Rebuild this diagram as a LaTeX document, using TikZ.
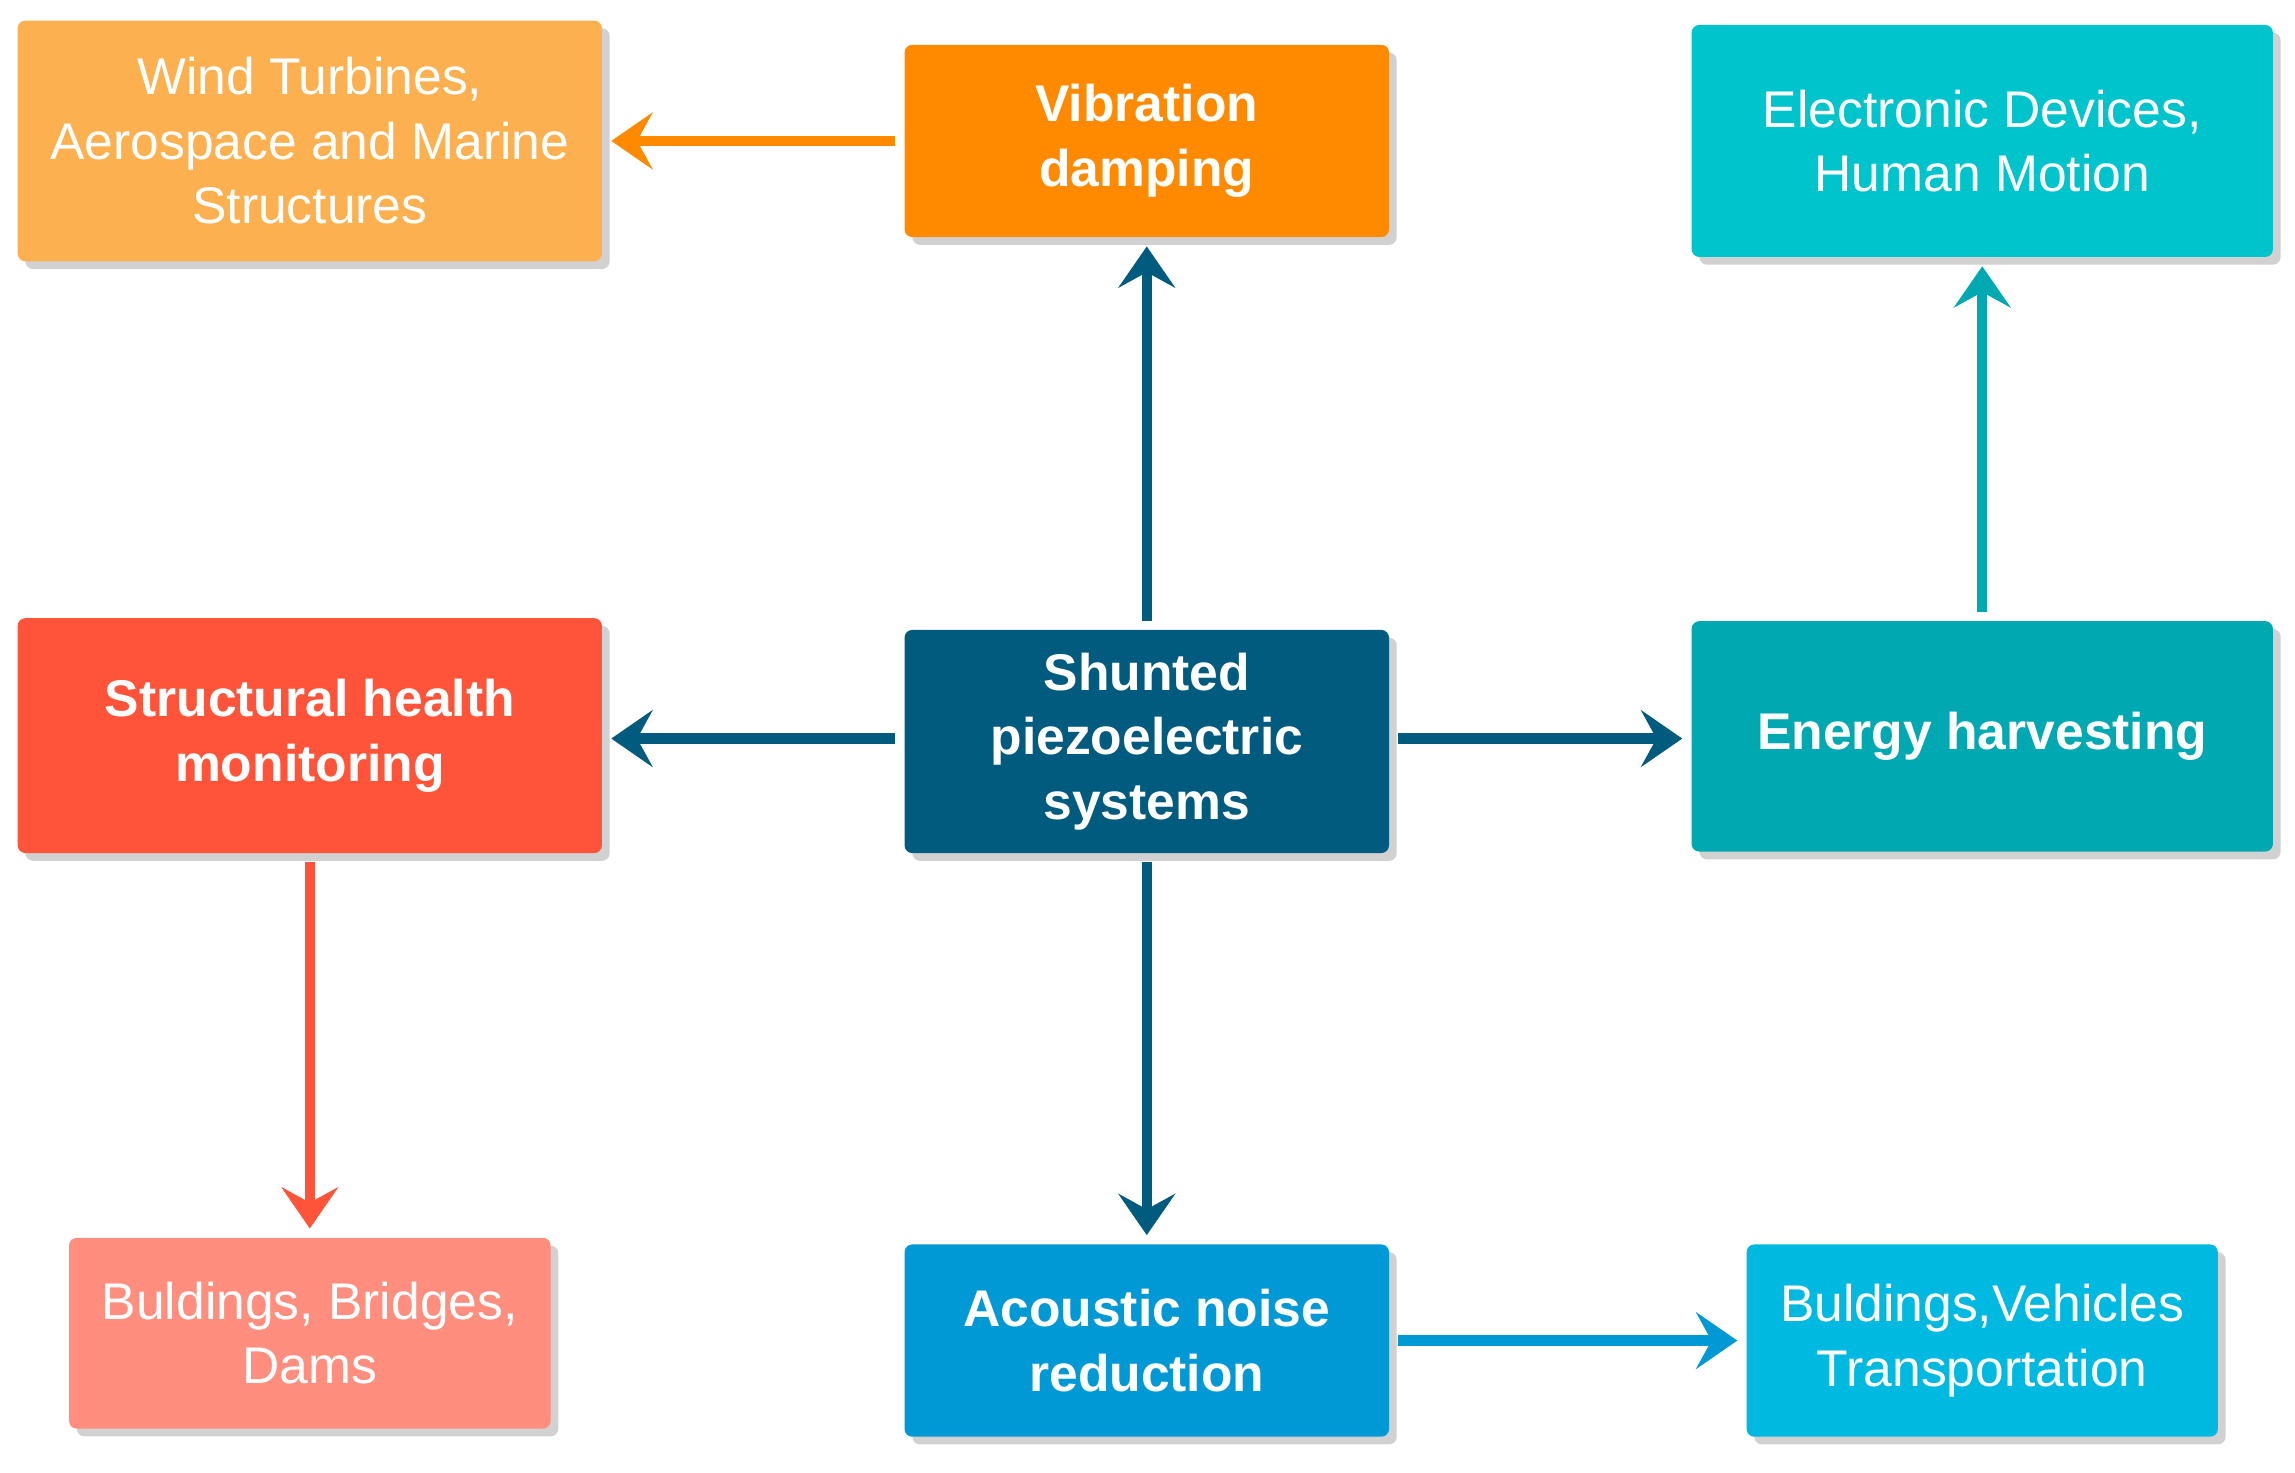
\documentclass[tikz,border=0pt]{standalone}
\usepackage{fontspec}
\setmainfont{Liberation Sans}
\usetikzlibrary{shadows,arrows.meta}
\definecolor{cwind}{HTML}{FDB04F}
\definecolor{cvib}{HTML}{FF8A00}
\definecolor{celec}{HTML}{00C4CC}
\definecolor{cshm}{HTML}{FF5439}
\definecolor{cshunt}{HTML}{005B7F}
\definecolor{cener}{HTML}{00A9B1}
\definecolor{cbbd}{HTML}{FF8E7E}
\definecolor{cacou}{HTML}{0099D5}
\definecolor{cveh}{HTML}{00B9E1}
\begin{document}
\begin{tikzpicture}[x=0.02cm,y=-0.02cm,
 box/.style={rounded corners=3pt,draw=none,text=white,align=center,
   font=\fontsize{20}{25}\selectfont,inner sep=0pt,
   drop shadow={shadow xshift=3pt,shadow yshift=-3pt,fill=black,opacity=0.18}},
 bold/.style={font=\fontsize{20}{25}\selectfont\bfseries},
 arr/.style={line width=4pt,-{Stealth[length=16pt,width=22pt,inset=6pt]},shorten <=0.12cm,shorten >=0.12cm}]
\useasboundingbox (0,0) rectangle (1563,1003);
\node[box,fill=cwind,minimum width=7.96cm,minimum height=3.28cm] (wind) at (211,96) {Wind Turbines,\\Aerospace and Marine\\Structures};
\node[box,bold,fill=cvib,minimum width=6.6cm,minimum height=2.62cm] (vib) at (781,96) {Vibration\\damping};
\node[box,fill=celec,minimum width=7.92cm,minimum height=3.16cm] (elec) at (1350,96) {Electronic Devices,\\Human Motion};
\node[box,bold,fill=cshm,minimum width=7.96cm,minimum height=3.2cm] (shm) at (211,501) {Structural health\\monitoring};
\node[box,bold,fill=cshunt,minimum width=6.6cm,minimum height=3.04cm] (sh) at (781,505) {Shunted\\piezoelectric\\systems};
\node[box,bold,fill=cener,minimum width=7.92cm,minimum height=3.14cm] (en) at (1350,501.5) {Energy harvesting};
\node[box,fill=cbbd,minimum width=6.56cm,minimum height=2.6cm] (bbd) at (211,908) {Buldings, Bridges,\\Dams};
\node[box,bold,fill=cacou,minimum width=6.6cm,minimum height=2.62cm] (ac) at (781,913) {Acoustic noise\\reduction};
\node[box,fill=cveh,minimum width=6.42cm,minimum height=2.62cm] (veh) at (1350,913) {Buldings,Vehicles\\Transportation};
\draw[arr,cvib] (vib.west) -- (vib.west -| wind.east);
\draw[arr,cshunt] (sh.north) -- (vib.south);
\draw[arr,cshunt] (sh.south) -- (ac.north);
\draw[arr,cshunt] ([yshift=0.04cm]sh.west) -- ([yshift=0.04cm]sh.west -| shm.east);
\draw[arr,cshunt] ([yshift=0.04cm]sh.east) -- ([yshift=0.04cm]sh.east -| en.west);
\draw[arr,cener] (en.north) -- (elec.south);
\draw[arr,cshm] (shm.south) -- (bbd.north);
\draw[arr,cacou] (ac.east) -- (veh.west);
\end{tikzpicture}
\end{document}
